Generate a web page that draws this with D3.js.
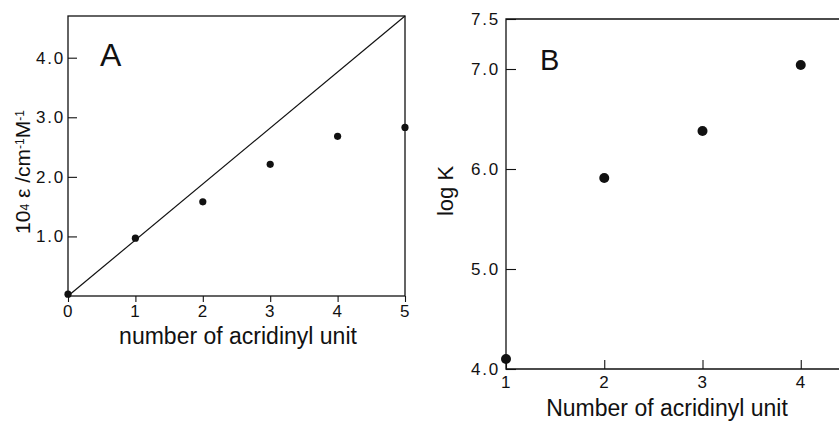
<!DOCTYPE html>
<html>
<head>
<meta charset="utf-8">
<script src="https://cdn.jsdelivr.net/npm/d3@7"></script>
<style>
  html, body { margin: 0; padding: 0; background: #fff; }
  svg { display: block; font-family: "Liberation Sans", Arial, Helvetica, sans-serif; }
  .axis path { display: none; }
  .axis line { stroke: #111; stroke-width: 1.1; }
  .axis text { fill: #111; font-size: 17px; letter-spacing: 1.8px; font-family: "Liberation Sans", Arial, sans-serif; }
  .frame { fill: none; stroke: #111; stroke-width: 1.3; }
  .title { fill: #111; }
</style>
</head>
<body>
<svg id="chart" width="839" height="421"></svg>
<script>
"use strict";

// Panel A: absorbance per acridinyl unit
const aUnits = [0, 1, 2, 3, 4, 5];
const aEpsilon = [0.03, 0.97, 1.58, 2.21, 2.68, 2.83];
const aLineUnits = [0, 5];
const aLineEpsilon = [0, 4.7];
const aXTicks = [0, 1, 2, 3, 4, 5];
const aYTicks = [1, 2, 3, 4];

// Panel B: binding constant
const bUnits = [1, 2, 3, 4];
const bLogK = [4.1, 5.91, 6.38, 7.04];
const bXTicks = [1, 2, 3, 4];
const bYTicks = [4, 5, 6, 7, 7.5];

const svg = d3.select("#chart");

function drawPanelA() {
  const x = d3.scaleLinear().domain([0, 5]).range([68, 405]);
  const y = d3.scaleLinear().domain([0, 4.7]).range([296, 16]);
  const g = svg.append("g");

  g.append("rect")
    .attr("class", "frame")
    .attr("x", x(0))
    .attr("y", y(4.7))
    .attr("width", x(5) - x(0))
    .attr("height", y(0) - y(4.7));

  g.append("g")
    .attr("class", "axis")
    .attr("transform", `translate(0,${y(0)})`)
    .call(d3.axisBottom(x).tickValues(aXTicks).tickFormat(d3.format("d"))
      .tickSize(6).tickPadding(3));

  g.append("g")
    .attr("class", "axis")
    .attr("transform", `translate(${x(0)},0)`)
    .call(d3.axisLeft(y).tickValues(aYTicks).tickFormat(d3.format(".1f"))
      .tickSize(-9).tickPadding(3));

  const line = d3.line()
    .x(d => x(d[0]))
    .y(d => y(d[1]));

  g.append("path")
    .datum(d3.zip(aLineUnits, aLineEpsilon))
    .attr("d", line)
    .attr("fill", "none")
    .attr("stroke", "#111")
    .attr("stroke-width", 1.2);

  g.selectAll("circle.pt")
    .data(d3.zip(aUnits, aEpsilon))
    .enter()
    .append("circle")
    .attr("class", "pt")
    .attr("cx", d => x(d[0]))
    .attr("cy", d => y(d[1]))
    .attr("r", 3.6)
    .attr("fill", "#111");

  g.append("text")
    .attr("class", "title")
    .attr("x", 100)
    .attr("y", 66)
    .attr("font-size", 32)
    .text("A");

  g.append("text")
    .attr("class", "title")
    .attr("x", 238)
    .attr("y", 344)
    .attr("text-anchor", "middle")
    .attr("font-size", 23)
    .text("number of acridinyl unit");

  const yTitle = g.append("text")
    .attr("class", "title")
    .attr("transform", "translate(30,172) rotate(-90)")
    .attr("text-anchor", "middle")
    .attr("font-size", 21);
  yTitle.append("tspan").text("10");
  yTitle.append("tspan").attr("font-size", 12).attr("dy", -1).text("4");
  yTitle.append("tspan").attr("dy", 1).text(" ε /cm");
  yTitle.append("tspan").attr("font-size", 12).attr("dy", -6).text("-1");
  yTitle.append("tspan").attr("dy", 6).text("M");
  yTitle.append("tspan").attr("font-size", 12).attr("dy", -6).text("-1");
}

function drawPanelB() {
  const x = d3.scaleLinear().domain([1, 5]).range([506, 899]);
  const y = d3.scaleLinear().domain([4, 7.5]).range([369, 19]);
  const g = svg.append("g");

  // frame: left, top and bottom (right edge is cut off)
  g.append("path")
    .attr("class", "frame")
    .attr("d", `M${x(5)},${y(7.5)}H${x(1)}V${y(4)}H${x(5)}`);

  g.append("g")
    .attr("class", "axis")
    .attr("transform", `translate(0,${y(4)})`)
    .call(d3.axisBottom(x).tickValues(bXTicks).tickFormat(d3.format("d"))
      .tickSize(-9).tickPadding(7));

  g.append("g")
    .attr("class", "axis")
    .attr("transform", `translate(${x(1)},0)`)
    .call(d3.axisLeft(y).tickValues(bYTicks).tickFormat(d3.format(".1f"))
      .tickSize(-10).tickPadding(6));

  g.selectAll("circle.pt")
    .data(d3.zip(bUnits, bLogK))
    .enter()
    .append("circle")
    .attr("class", "pt")
    .attr("cx", d => x(d[0]))
    .attr("cy", d => y(d[1]))
    .attr("r", 5)
    .attr("fill", "#111");

  g.append("text")
    .attr("class", "title")
    .attr("x", 540)
    .attr("y", 70)
    .attr("font-size", 29)
    .text("B");

  g.append("text")
    .attr("class", "title")
    .attr("x", 667)
    .attr("y", 416)
    .attr("text-anchor", "middle")
    .attr("font-size", 23)
    .text("Number of acridinyl unit");

  g.append("text")
    .attr("class", "title")
    .attr("transform", "translate(453,191) rotate(-90)")
    .attr("text-anchor", "middle")
    .attr("font-size", 22)
    .text("log K");
}

drawPanelA();
drawPanelB();
</script>
</body>
</html>
